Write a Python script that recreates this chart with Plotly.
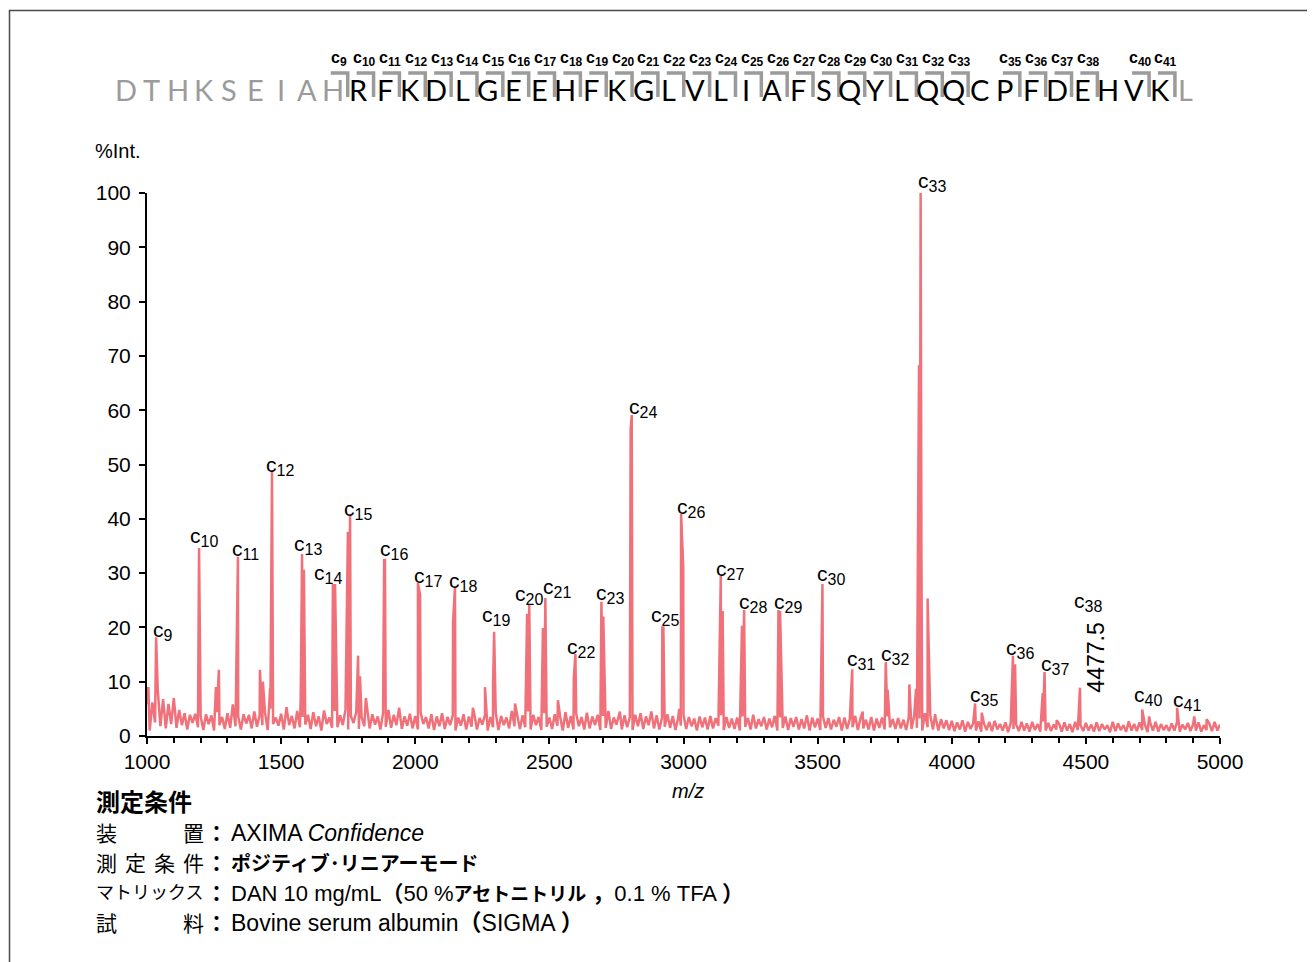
import plotly.graph_objects as go

# ---------------- data ----------------
# baseline noise, one value every 10 m/z from 1000 to 5000
noise_start = 1000
noise_step = 10
noise = [
    5.8, 1.0, 6.2, 2.5, 8.5, 1.8, 6.8, 1.4, 5.9, 2.2,
    7.0, 1.5, 4.8, 2.0, 4.2, 1.2, 3.9, 2.4, 4.1, 1.6,
    3.6, 1.1, 4.0, 2.2, 3.8, 1.0, 4.4, 2.0, 3.5, 1.3,
    4.2, 1.5, 5.8, 1.8, 3.6, 1.2, 4.0, 2.3, 3.9, 1.4,
    4.5, 1.7, 3.8, 2.0, 4.3, 1.1, 5.0, 2.2, 3.4, 1.9,
    4.1, 1.2, 5.3, 2.0, 3.7, 1.4, 4.6, 1.6, 3.5, 2.1,
    3.9, 1.3, 4.4, 1.8, 3.6, 1.0, 4.7, 2.2, 3.4, 1.5,
    4.6, 1.6, 3.8, 2.0, 4.9, 1.2, 3.7, 2.4, 4.4, 1.3,
    3.5, 1.8, 5.5, 1.4, 4.0, 2.1, 3.6, 1.2, 4.2, 1.7,
    4.8, 1.5, 3.9, 2.0, 5.2, 1.3, 3.6, 1.9, 4.1, 1.4,
    3.7, 1.2, 4.3, 2.2, 3.5, 1.4, 4.0, 1.1, 3.6, 1.8,
    4.2, 1.3, 3.5, 2.0, 3.8, 1.0, 3.4, 1.9, 4.0, 1.2,
    3.6, 1.7, 4.1, 1.2, 3.3, 2.1, 3.9, 1.0, 3.5, 1.6,
    4.3, 1.1, 3.7, 2.0, 3.4, 1.4, 4.6, 1.8, 3.6, 1.3,
    3.8, 1.6, 4.5, 1.2, 3.9, 2.0, 3.5, 1.1, 4.2, 1.7,
    3.4, 1.3, 4.0, 1.9, 3.6, 1.0, 4.4, 1.5, 3.7, 1.2,
    4.1, 1.8, 3.5, 1.2, 4.3, 1.4, 3.6, 2.0, 3.9, 1.1,
    3.7, 1.5, 4.6, 1.3, 3.4, 2.1, 4.0, 1.2, 3.8, 1.6,
    3.5, 1.1, 3.9, 1.8, 4.2, 1.3, 3.6, 2.0, 4.5, 1.4,
    3.8, 1.2, 3.4, 1.7, 4.0, 1.5, 3.7, 1.1, 3.3, 1.9,
    3.9, 1.3, 3.5, 1.8, 3.2, 1.0, 3.6, 1.6, 3.4, 1.2,
    3.7, 1.4, 3.3, 1.9, 3.8, 1.1, 3.5, 1.5, 3.2, 1.3,
    3.4, 1.0, 3.6, 1.7, 3.3, 1.2, 3.9, 1.4, 3.1, 1.8,
    3.5, 1.2, 3.2, 1.6, 3.7, 1.0, 3.4, 1.5, 3.6, 1.1,
    3.3, 1.7, 3.5, 1.2, 3.1, 1.4, 3.8, 1.0, 3.4, 1.6,
    3.2, 1.1, 3.6, 1.5, 3.3, 1.2, 3.0, 1.7, 3.5, 1.0,
    3.4, 1.3, 3.1, 1.6, 3.7, 1.1, 3.3, 1.4, 3.0, 1.2,
    3.5, 1.0, 3.2, 1.5, 3.4, 1.2, 3.6, 1.6, 3.1, 1.3,
    3.3, 1.4, 3.0, 1.1, 3.5, 1.3, 3.7, 1.5, 3.2, 1.0,
    4.2, 1.6, 3.8, 1.2, 3.4, 1.0, 3.1, 1.4, 2.9, 1.1,
    2.8, 0.9, 2.5, 1.2, 2.9, 0.8, 2.6, 1.3, 2.4, 1.0,
    2.7, 0.8, 2.3, 1.1, 2.6, 0.9, 2.8, 1.2, 2.2, 1.0,
    2.5, 0.7, 2.4, 1.3, 2.1, 0.9, 2.6, 1.0, 2.3, 0.8,
    2.6, 1.1, 2.2, 0.8, 2.7, 1.0, 2.4, 0.9, 2.1, 1.2,
    2.3, 0.8, 2.5, 1.0, 2.2, 0.7, 2.6, 1.1, 2.0, 0.9,
    2.4, 1.0, 2.1, 0.8, 2.5, 0.9, 2.2, 1.2, 2.0, 0.7,
    2.6, 0.9, 2.3, 1.1, 2.0, 0.8, 2.7, 1.0, 2.2, 0.9,
    2.5, 1.1, 2.1, 0.7, 2.4, 1.0, 2.6, 0.8, 2.2, 1.1,
    2.0, 0.9, 2.3, 1.0, 2.6, 0.8, 2.1, 1.2, 2.4, 0.9,
    2.2, 1.0, 2.5, 0.8, 2.0, 1.1, 2.3, 0.9, 2.6, 1.0,
    2.1,
]

# peaks (m/z, %Int.)
peak_mz = [1005, 1034, 1194, 1257, 1268, 1339, 1421, 1432, 1459, 1466,
           1573, 1578, 1585, 1693, 1701, 1708, 1749, 1757, 1787, 1794,
           1816, 1884, 1887, 2010, 2018, 2141, 2148, 2215, 2260, 2290,
           2294, 2372, 2417, 2425, 2476, 2485, 2532, 2591, 2597, 2694,
           2701, 2763, 2803, 2807, 2921, 2925, 2984, 2991, 2999, 3139,
           3146, 3218, 3226, 3354, 3360, 3518, 3629, 3668, 3754, 3761,
           3842, 3867, 3878, 3884, 3887, 3910, 3938, 4087, 4112, 4161,
           4228, 4236, 4339, 4346, 4391, 4478, 4710, 4736, 4840, 4904,
           4950]
peak_int = [9.0, 18.2, 34.6, 9.0, 12.2, 33.0, 12.2, 10.0, 8.8, 48.8,
            7.0, 33.5, 30.6, 28.0, 28.0, 7.0, 37.6, 40.5, 14.8, 11.0,
            7.0, 32.4, 32.4, 28.2, 26.0, 20.9, 27.3, 5.2, 9.0, 9.4,
            19.2, 6.0, 22.5, 24.1, 19.9, 25.4, 6.6, 10.7, 15.1, 24.7,
            22.0, 4.5, 56.5, 59.1, 20.0, 20.0, 5.0, 40.9, 31.2, 29.5,
            23.0, 20.3, 23.2, 23.2, 23.0, 28.0, 12.3, 4.5, 13.6, 8.5,
            9.5, 8.7, 68.3, 100.0, 33.0, 25.3, 4.0, 6.0, 4.3, 2.6,
            14.8, 13.2, 7.9, 11.8, 2.9, 8.9, 4.9, 3.6, 5.2, 3.6,
            3.1]

# labelled c-ions: index, peak m/z, peak %Int.
ion_n = [9, 10, 11, 12, 13, 14, 15, 16, 17, 18, 19, 20, 21, 22, 23, 24,
         25, 26, 27, 28, 29, 30, 31, 32, 33, 35, 36, 37, 38, 40, 41]
ion_mz = [1034, 1194, 1339, 1466, 1578, 1693, 1757, 1887, 2010, 2148, 2294,
          2425, 2485, 2597, 2694, 2807, 2921, 2991, 3139, 3226, 3354, 3518,
          3629, 3754, 3884, 4087, 4228, 4346, 4478, 4710, 4840]
ion_int = [18.2, 34.6, 33.0, 48.8, 33.5, 28.0, 40.5, 32.4, 28.2, 27.3, 19.2,
           24.1, 25.4, 15.1, 24.7, 59.1, 20.0, 40.9, 29.5, 23.2, 23.2, 28.0,
           12.3, 13.6, 100.0, 6.0, 14.8, 11.8, 8.9, 4.9, 5.2]
mass_note = "4477.5"

sequence = "DTHKSEIAHRFKDLGEEHFKGLVLIAFSQYLQQCPFDEHVKL"
seq_black_from, seq_black_to = 9, 40

x_ticks = [1000, 1500, 2000, 2500, 3000, 3500, 4000, 4500, 5000]
y_ticks = [0, 10, 20, 30, 40, 50, 60, 70, 80, 90, 100]

cond_title = "測定条件"
cond_rows = [
    ("装置", "AXIMA <i>Confidence</i>", 23),
    ("測定条件", "<b><span style='font-size:20px'>ポジティブ･リニアーモード</span></b>", 23),
    ("マトリックス", "DAN 10 mg/mL<b>（</b>50 %<b><span style='font-size:19px'>アセトニトリル</span></b> <b>，</b>0.1 % TFA <b>）</b>", 22),
    ("試料", "Bovine serum albumin<b>（</b>SIGMA <b>）</b>", 23),
]

# ---------------- layout helpers ----------------
# page body has an 8 px margin; positions below are in reference pixels
OFF = 8
W, H = 1315 - OFF, 962 - OFF
RL, RR, RT, RB = 147, 1220, 193, 736   # plot area in reference pixels
PL, PR, PT, PB = RL - OFF, RR - OFF, RT - OFF, RB - OFF


def px(x):
    return (x - RL) / (RR - RL)


def py(y):
    return (RB - y) / (RB - RT)


LAT = "Liberation Sans, Arial, sans-serif"
JP = "Liberation Sans, Noto Sans CJK JP, sans-serif"
COLOR = "#F0717A"
GRAY = "#9b9b9b"

noise_mz = [noise_start + noise_step * i for i in range(len(noise))]
pts = sorted(zip(noise_mz + peak_mz, noise + peak_int))
xs = [p[0] for p in pts]
ys = [p[1] for p in pts]

fig = go.Figure()
fig.add_trace(go.Scatter(x=xs, y=ys, mode="lines",
                         line=dict(color=COLOR, width=2.5), hoverinfo="skip",
                         showlegend=False))

annotations = []
shapes = []

# peak label offsets in pixels (dx, dy above the peak top)
lab_off = {9: (7, 6), 10: (5, 11), 11: (8, 7), 12: (8, 5), 13: (6, 9),
           14: (-5, 10), 15: (8, 6), 16: (9, 10), 17: (10, 6), 18: (8, 6),
           19: (2, 16), 20: (0, 10), 21: (12, 10), 22: (6, 6), 23: (9, 8),
           24: (11, 7), 25: (3, 11), 26: (10, 6), 27: (9, 6), 28: (9, 7),
           29: (10, 7), 30: (9, 9), 31: (9, 9), 32: (9, 7), 33: (11, 11),
           35: (9, 7), 36: (7, 7), 37: (10, 7), 38: (8, 86), 40: (6, 13),
           41: (10, 7)}

for n, mz, v in zip(ion_n, ion_mz, ion_int):
    dx, dy = lab_off[n]
    annotations.append(dict(
        x=mz, y=v, xref="x", yref="y", xanchor="center", yanchor="middle",
        xshift=dx, yshift=dy, showarrow=False,
        text="c<sub><span style='font-size:16px'>%d</span></sub>" % n,
        font=dict(family=LAT, size=21, color="black")))

# rotated mass value next to c38
annotations.append(dict(
    x=ion_mz[ion_n.index(38)], y=ion_int[ion_n.index(38)], xref="x", yref="y",
    xanchor="center", yanchor="middle", xshift=16, yshift=30, textangle=-90,
    showarrow=False, text=mass_note,
    font=dict(family=LAT, size=23, color="black")))

# sequence with fragmentation brackets
SX0, SDX, SY = 126, 25.85, 89
for i, ch in enumerate(sequence):
    col = "black" if seq_black_from <= i <= seq_black_to else GRAY
    annotations.append(dict(
        x=px(SX0 + SDX * i), y=py(SY), xref="paper", yref="paper",
        xanchor="center", yanchor="middle", showarrow=False, text=ch,
        font=dict(family="Lato, Open Sans, sans-serif", size=29, color=col)))

for n in ion_n:
    xv = SX0 + SDX * (n - 0.5) + 2
    x1 = xv - 17
    shapes.append(dict(
        type="path", xref="paper", yref="paper",
        path="M %.5f,%.5f L %.5f,%.5f L %.5f,%.5f" % (
            px(x1), py(73), px(xv), py(73), px(xv), py(97)),
        line=dict(color=GRAY, width=3.5)))
    annotations.append(dict(
        x=px(xv - 9), y=py(59), xref="paper", yref="paper",
        xanchor="center", yanchor="middle", showarrow=False,
        text="<b>c<sub><span style='font-size:12px'>%d</span></sub></b>" % n,
        font=dict(family=LAT, size=16, color="black")))

# axis titles
annotations.append(dict(x=px(93), y=py(151), xref="paper", yref="paper",
                        xanchor="left", yanchor="middle", showarrow=False,
                        text="%Int.", font=dict(family=LAT, size=20, color="black")))
annotations.append(dict(x=px(688), y=py(791), xref="paper", yref="paper",
                        xanchor="center", yanchor="middle", showarrow=False,
                        text="<i>m/z</i>", font=dict(family=LAT, size=20, color="black")))

# measurement conditions block
annotations.append(dict(x=px(94), y=py(802), xref="paper", yref="paper",
                        xanchor="left", yanchor="middle", showarrow=False,
                        text="<b>%s</b>" % cond_title,
                        font=dict(family=JP, size=24, color="black")))
row_y = [833, 863, 893, 923]
for (lab, val, fs), yy in zip(cond_rows, row_y):
    n = len(lab)
    if lab == "マトリックス":
        annotations.append(dict(x=px(94), y=py(yy), xref="paper", yref="paper",
                                xanchor="left", yanchor="middle", showarrow=False,
                                text=lab, font=dict(family=JP, size=18, color="black")))
    else:
        for k, ch in enumerate(lab):
            cx = 106 + (193 - 106) * k / (n - 1)
            annotations.append(dict(x=px(cx), y=py(yy), xref="paper", yref="paper",
                                    xanchor="center", yanchor="middle", showarrow=False,
                                    text=ch, font=dict(family=JP, size=21, color="black")))
    annotations.append(dict(x=px(216), y=py(yy), xref="paper", yref="paper",
                            xanchor="center", yanchor="middle", showarrow=False,
                            text="<b>：</b>", font=dict(family=JP, size=21, color="black")))
    annotations.append(dict(x=px(229), y=py(yy), xref="paper", yref="paper",
                            xanchor="left", yanchor="middle", showarrow=False,
                            text=val, font=dict(family=JP, size=fs, color="black")))

# outer frame
shapes.append(dict(type="rect", xref="paper", yref="paper",
                   x0=px(9.5), x1=px(1311), y0=py(990), y1=py(10.5),
                   line=dict(color="#4a4a4a", width=1.5)))

fig.update_layout(
    width=W, height=H,
    margin=dict(l=PL, r=W - PR, t=PT, b=H - PB, pad=0),
    paper_bgcolor="white", plot_bgcolor="white",
    showlegend=False,
    annotations=annotations, shapes=shapes,
    xaxis=dict(range=[1000, 5000], tickvals=x_ticks, ticks="outside",
               ticklen=6, tickwidth=2, tickcolor="black",
               minor=dict(dtick=100, ticks="outside", ticklen=5, tickwidth=1.5,
                          tickcolor="black"),
               showline=True, linewidth=2, linecolor="black",
               showgrid=False, zeroline=False,
               tickfont=dict(family=LAT, size=21, color="black")),
    yaxis=dict(range=[0, 100], tickvals=y_ticks, ticks="outside",
               ticklen=6, tickwidth=2, tickcolor="black",
               ticklabelstandoff=4,
               showline=True, linewidth=2, linecolor="black",
               showgrid=False, zeroline=False,
               tickfont=dict(family=LAT, size=21, color="black")),
)

fig.write_html("out.html")
